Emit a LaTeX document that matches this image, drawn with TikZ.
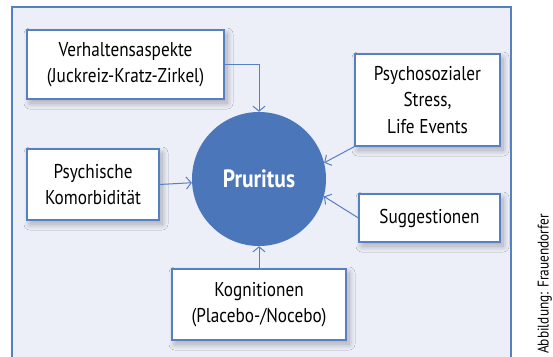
\documentclass[tikz,border=0pt]{standalone}
\usepackage{fontspec}
\setmainfont{PT Sans}[FakeStretch=0.86]
\usepackage{tikz}
\usetikzlibrary{arrows.meta,shadows.blur}

\definecolor{frameblue}{HTML}{5580C4}
\definecolor{panelfill}{HTML}{ECEEF8}
\definecolor{circblue}{HTML}{4B77BA}

\begin{document}
\begin{tikzpicture}[
    x=1pt, y=-1pt,
    factor/.style={draw=frameblue, line width=1.2pt, fill=white, inner sep=0pt, align=center,
        font=\fontsize{20}{26.5}\selectfont,
        blur shadow={shadow xshift=3pt, shadow yshift=-4pt, shadow blur radius=6pt,
            shadow opacity=30, shadow blur steps=12}},
    arrow/.style={-{Straight Barb[length=5pt,width=12pt]}, draw=frameblue, line width=1pt}
]
\useasboundingbox (0,0) rectangle (553,356);
\clip (0,0) rectangle (553,356);
\draw[frameblue, line width=1.6pt, fill=panelfill] (12,7) rectangle (511,380);

\node[circle, fill=circblue, minimum size=134pt, inner sep=0pt, text=white,
    font=\fontsize{25}{28}\selectfont\bfseries] (pruritus) at (259,179) {Pruritus};

\node[factor, minimum width=197pt, minimum height=69pt] (verhalten) at (125.5,64.5)
    {Verhaltensaspekte\\(Juckreiz-Kratz-Zirkel)};
\node[factor, minimum width=145pt, minimum height=92pt] (stress) at (427.5,100)
    {Psychosozialer\\Stress,\\Life Events};
\node[factor, minimum width=132pt, minimum height=71pt] (komorb) at (93,184.5)
    {Psychische\\Komorbidität};
\node[factor, minimum width=141pt, minimum height=48pt] (sugg) at (429.5,218)
    {Suggestionen};
\node[factor, minimum width=174pt, minimum height=71pt] (kogn) at (259,304.5)
    {Kognitionen\\(Placebo-/Nocebo)};

\draw[arrow] (verhalten.east) -| (pruritus.north);
\draw[arrow] (komorb.east) -- (pruritus);
\draw[arrow] (stress.south west) -- (pruritus.14);
\draw[arrow] (sugg.west) -- (pruritus.-15);
\draw[arrow] (kogn.north) -- (pruritus.south);

\node[rotate=90, anchor=south west, inner sep=0pt, font=\fontsize{15.5}{15.5}\selectfont] (credit)
    at (552,354) {Abbildung: Frauendorfer};
\end{tikzpicture}
\end{document}
